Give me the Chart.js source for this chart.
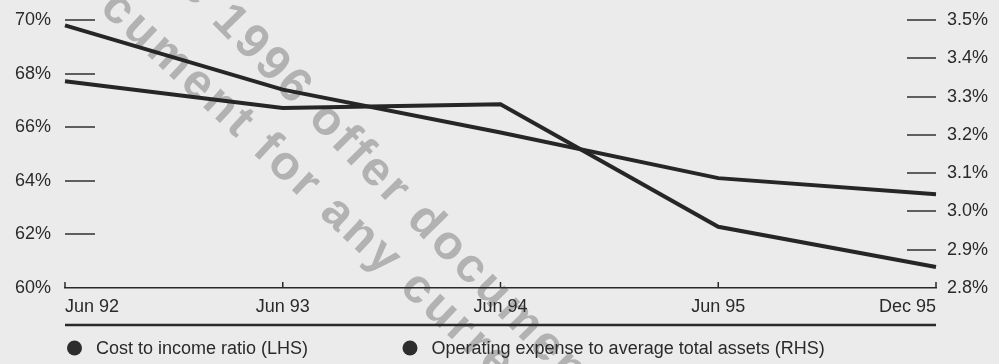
<!DOCTYPE html>
<html>
<head>
<meta charset="utf-8">
<script src="https://cdn.jsdelivr.net/npm/chart.js@4/dist/chart.umd.min.js"></script>
<style>
  html, body { margin: 0; padding: 0; background: #ebebeb; }
  #wrap { width: 999px; height: 364px; }
</style>
</head>
<body>
<div id="wrap"><canvas id="c" width="999" height="364"></canvas></div>
<script>
// Periods on the horizontal axis
const categories = ['Jun 92', 'Jun 93', 'Jun 94', 'Jun 95', 'Dec 95'];
// Cost to income ratio, % (left-hand scale)
const costToIncome = [69.8, 67.4, 65.8, 64.1, 63.5];
// Operating expense to average total assets, % (right-hand scale)
const opexToAssets = [3.34, 3.27, 3.28, 2.96, 2.855];
// Axis tick values
const leftTicks = [60, 62, 64, 66, 68, 70];
const rightTicks = [2.8, 2.9, 3.0, 3.1, 3.2, 3.3, 3.4, 3.5];
// Series names shown in the key
const seriesNames = ['Cost to income ratio (LHS)', 'Operating expense to average total assets (RHS)'];
// Diagonal stamp across the page
const stampLines = ['e 1996 offer document', 'cument for any current'];

const FONT = '"Liberation Sans", Arial, Helvetica, sans-serif';
const INK = '#2a2a2a';
const LINE = '#262626';
const BG = '#ebebeb';

// Page background and the grey diagonal stamp, painted under everything else
const backdrop = {
  id: 'backdrop',
  beforeDraw(chart) {
    const ctx = chart.ctx;
    ctx.save();
    ctx.fillStyle = BG;
    ctx.fillRect(0, 0, chart.width, chart.height);
    ctx.font = 'bold 48px ' + FONT;
    ctx.letterSpacing = '3.5px';
    ctx.fillStyle = '#b2b2b2';
    ctx.textBaseline = 'alphabetic';
    ctx.textAlign = 'left';
    // first line, anchored on the year
    ctx.save();
    ctx.translate(265, 53);
    ctx.rotate(45.6 * Math.PI / 180);
    let off = ctx.measureText('e ').width + ctx.measureText('1996').width / 2;
    ctx.fillText(stampLines[0], -off, 17);
    ctx.restore();
    // second line, anchored on the "m"
    ctx.save();
    ctx.translate(170, 60);
    ctx.rotate(43 * Math.PI / 180);
    off = ctx.measureText('cu').width + ctx.measureText('m').width / 2;
    ctx.fillText(stampLines[1], -off, 12);
    ctx.restore();
    ctx.letterSpacing = '0px';
    ctx.restore();
  }
};

// Short tick dashes inside the plot, category labels, rule and key
const furniture = {
  id: 'furniture',
  beforeDatasetsDraw(chart) {
    const ctx = chart.ctx;
    const area = chart.chartArea;
    const yl = chart.scales.y, yr = chart.scales.y1, x = chart.scales.x;
    ctx.save();
    ctx.strokeStyle = '#5e5e5e';
    ctx.lineWidth = 2;
    leftTicks.slice(1).forEach(v => {
      const py = Math.round(yl.getPixelForValue(v));
      ctx.beginPath();
      ctx.moveTo(area.left, py);
      ctx.lineTo(area.left + 30, py);
      ctx.stroke();
    });
    rightTicks.slice(1).forEach(v => {
      const py = Math.round(yr.getPixelForValue(v));
      ctx.beginPath();
      ctx.moveTo(area.right - 29, py);
      ctx.lineTo(area.right, py);
      ctx.stroke();
    });
    // small upward marks on the time axis
    ctx.strokeStyle = INK;
    ctx.lineWidth = 1.5;
    categories.forEach((c, i) => {
      const px = x.getPixelForValue(i);
      ctx.beginPath();
      ctx.moveTo(px, area.bottom);
      ctx.lineTo(px, area.bottom - 6);
      ctx.stroke();
    });
    ctx.restore();
  },
  afterDraw(chart) {
    const ctx = chart.ctx;
    const area = chart.chartArea;
    const x = chart.scales.x;
    ctx.save();
    ctx.letterSpacing = '0px';
    ctx.fillStyle = INK;
    ctx.font = '18px ' + FONT;
    ctx.textBaseline = 'alphabetic';
    categories.forEach((c, i) => {
      const px = x.getPixelForValue(i);
      ctx.textAlign = i === 0 ? 'left' : (i === categories.length - 1 ? 'right' : 'center');
      ctx.fillText(c, px, 312);
    });
    // rule under the period labels
    ctx.strokeStyle = INK;
    ctx.lineWidth = 2.5;
    ctx.beginPath();
    ctx.moveTo(area.left, 325);
    ctx.lineTo(area.right, 325);
    ctx.stroke();
    // key
    const keyX = [74.5, 410];
    chart.data.datasets.forEach((ds, i) => {
      ctx.fillStyle = '#2d2d2d';
      ctx.beginPath();
      ctx.arc(keyX[i], 348, 7.5, 0, Math.PI * 2);
      ctx.fill();
      ctx.fillStyle = INK;
      ctx.textAlign = 'left';
      ctx.fillText(ds.label, keyX[i] + 21.5, 354);
    });
    ctx.restore();
  }
};

new Chart(document.getElementById('c'), {
  type: 'line',
  data: {
    labels: categories,
    datasets: [
      {
        label: seriesNames[0],
        data: costToIncome,
        yAxisID: 'y',
        borderColor: LINE,
        borderWidth: 4,
        pointRadius: 0,
        tension: 0,
        fill: false
      },
      {
        label: seriesNames[1],
        data: opexToAssets,
        yAxisID: 'y1',
        borderColor: LINE,
        borderWidth: 4,
        pointRadius: 0,
        tension: 0,
        fill: false
      }
    ]
  },
  options: {
    responsive: false,
    devicePixelRatio: 1,
    animation: false,
    layout: { padding: { top: 20, left: 0, right: 0, bottom: 0 } },
    plugins: {
      legend: { display: false },
      tooltip: { enabled: false }
    },
    scales: {
      x: {
        type: 'category',
        offset: false,
        grid: { display: false, drawTicks: false },
        ticks: { display: false },
        border: { display: true, color: INK, width: 1.5 },
        afterFit(s) { s.height = 76; s.paddingLeft = 0; s.paddingRight = 0; }
      },
      y: {
        position: 'left',
        min: 60,
        max: 70,
        afterBuildTicks(s) { s.ticks = leftTicks.map(v => ({ value: v })); },
        ticks: {
          padding: 14,
          color: INK,
          font: { family: FONT, size: 18 },
          callback: v => v + '%'
        },
        grid: { display: false, drawTicks: false },
        border: { display: false },
        afterFit(s) { s.width = 65; s.paddingTop = 0; s.paddingBottom = 0; }
      },
      y1: {
        position: 'right',
        min: 2.8,
        max: 3.5,
        afterBuildTicks(s) { s.ticks = rightTicks.map(v => ({ value: v })); },
        ticks: {
          padding: 11,
          color: INK,
          font: { family: FONT, size: 18 },
          callback: v => Number(v).toFixed(1) + '%'
        },
        grid: { display: false, drawTicks: false },
        border: { display: false },
        afterFit(s) { s.width = 63; s.paddingTop = 0; s.paddingBottom = 0; }
      }
    }
  },
  plugins: [backdrop, furniture]
});
</script>
</body>
</html>
